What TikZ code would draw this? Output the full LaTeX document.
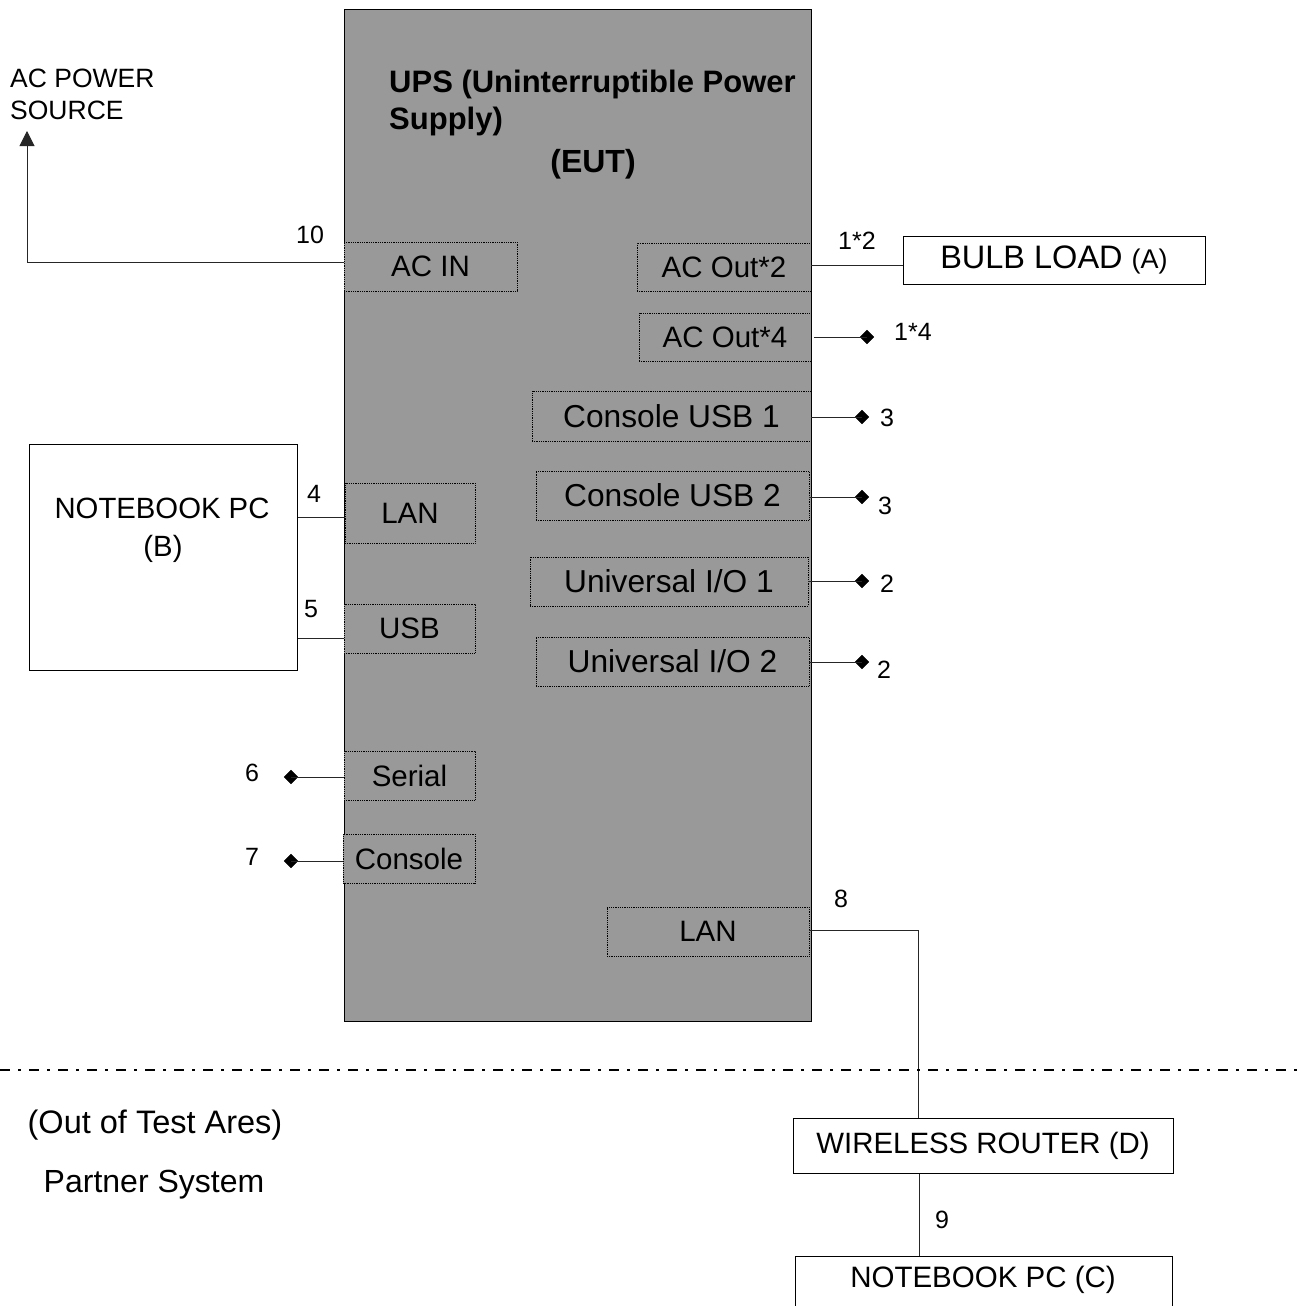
\documentclass[tikz,border=0pt]{standalone}
\usepackage{fontspec}
\setmainfont{Liberation Sans}
\usetikzlibrary{shapes.geometric,arrows.meta}
\newcommand\setfs[1]{\fontsize{#1}{#1}\selectfont}
\definecolor{upsgray}{HTML}{999999}
\tikzset{
  port/.style={draw=black, densely dotted, line width=0.8pt, fill=upsgray, inner sep=0pt, font=\setfs{29.5}},
  portb/.style={port, font=\setfs{31.7}},
  wbox/.style={draw=black, line width=1pt, fill=white, inner sep=0pt},
  conn/.style={draw=black!85, line width=1pt},
  dmd/.style={diamond, fill=black, draw=black, inner sep=0pt, minimum size=14pt},
  lbl/.style={font=\setfs{25}, inner sep=0pt},
}
\begin{document}
\begin{tikzpicture}[x=1pt,y=-1pt]
\useasboundingbox (0,0) rectangle (1298,1306);
\clip (0,0) rectangle (1298,1306);
% UPS box
\node[draw=black, line width=1pt, fill=upsgray, minimum width=467, minimum height=1012, inner sep=0pt, anchor=north west] (ups) at (344,9) {};
\node[font=\bfseries\setfs{31}, anchor=west, inner sep=0pt] (t1) at (389,84) {UPS (Uninterruptible Power};
\node[font=\bfseries\setfs{31}, anchor=west, inner sep=0pt] (t2) at (389,121) {Supply)};
\node[font=\bfseries\setfs{32}, inner sep=0pt] (t3) at (593,164) {(EUT)};
% ports
\node[port, minimum width=173, minimum height=49] (acin) at (430.5,266.5) {AC IN};
\node[port, minimum width=174, minimum height=48] (aco2) at (724,267) {AC Out*2};
\node[port, minimum width=172, minimum height=48] (aco4) at (725,337) {AC Out*4};
\node[portb, minimum width=279, minimum height=50] (cusb1) at (671.5,416) {Console USB 1};
\node[portb, minimum width=273, minimum height=49] (cusb2) at (672.5,495.5) {Console USB 2};
\node[portb, minimum width=278, minimum height=49] (uio1) at (669,581.5) {Universal I/O 1};
\node[portb, minimum width=273, minimum height=49] (uio2) at (672.5,661.5) {Universal I/O 2};
\node[port, minimum width=202, minimum height=49] (lanr) at (708,931.5) {LAN};
\node[port, minimum width=130, minimum height=60] (lanl) at (410,513) {LAN};
\node[port, minimum width=131, minimum height=49] (usb) at (409.5,628.5) {USB};
\node[port, minimum width=131, minimum height=49] (serial) at (409.5,775.5) {Serial};
\node[port, minimum width=132, minimum height=49] (console) at (409,858.5) {Console};
% external boxes
\node[wbox, minimum width=302, minimum height=48, font=\setfs{32.5}] (bulb) at (1054,260) {BULB LOAD {\setfs{27}(A)}};
\node[wbox, minimum width=268, minimum height=226] (nbb) at (163,557) {};
\node[font=\setfs{29.3}, inner sep=0pt] (nbbt1) at (162,508) {NOTEBOOK PC};
\node[font=\setfs{29.3}, inner sep=0pt] (nbbt2) at (163,549) {(B)};
\node[wbox, minimum width=380, minimum height=55, font=\setfs{29.4}] (router) at (983,1145.5) {WIRELESS ROUTER (D)};
\node[wbox, minimum width=377, minimum height=110, anchor=north] (nbc) at (983.5,1256) {};
\node[font=\setfs{29.5}, inner sep=0pt] (nbct) at (983,1280) {NOTEBOOK PC (C)};
% AC power source
\node[font=\setfs{26.5}, anchor=north west, inner sep=0pt, align=left] (acps) at (10,69) {AC POWER\\[5pt]SOURCE};
\coordinate (acsrc) at (27,131);
\draw[conn, -{Triangle[length=15pt,width=15pt]}] (acin.west |- 0,262) -- (27,262) -- (acsrc);
\node[lbl] (l10) at (310,235) {10};
% right connectors
\draw[conn] (aco2.east |- 0,265) -- (bulb.west |- 0,265);
\node[lbl] (l12) at (857,241) {1*2};
\node[dmd] (d14) at (867,337) {};
\draw[conn] (aco4.east) ++(3,0) -- (d14.center);
\node[lbl] (l14) at (913,332) {1*4};
\node[dmd] (d3a) at (862,417) {};
\draw[conn] (cusb1.east |- d3a) -- (d3a.center);
\node[lbl] (l3a) at (887,418) {3};
\node[dmd] (d3b) at (862,497) {};
\draw[conn] (cusb2.east |- d3b) -- (d3b.center);
\node[lbl] (l3b) at (885,506) {3};
\node[dmd] (d2a) at (862,581) {};
\draw[conn] (uio1.east |- d2a) -- (d2a.center);
\node[lbl] (l2a) at (887,584) {2};
\node[dmd] (d2b) at (862,662) {};
\draw[conn] (uio2.east |- d2b) -- (d2b.center);
\node[lbl] (l2b) at (884,670) {2};
% left connectors
\draw[conn] (nbb.east |- 0,517) -- (lanl.west |- 0,517);
\node[lbl] (l4) at (314,494) {4};
\draw[conn] (nbb.east |- 0,638) -- (usb.west |- 0,638);
\node[lbl] (l5) at (311,609) {5};
\node[dmd] (d6) at (291,777) {};
\draw[conn] (d6.center) -- (serial.west |- d6);
\node[lbl] (l6) at (252,773) {6};
\node[dmd] (d7) at (291,861) {};
\draw[conn] (d7.center) -- (console.west |- d7);
\node[lbl] (l7) at (252,857) {7};
% LAN to router
\coordinate (lancorner) at (918,930);
\draw[conn] (lanr.east |- lancorner) -- (lancorner) -- (router.north -| lancorner);
\node[lbl] (l8) at (841,899) {8};
\draw[conn] (router.south -| 919,0) -- (nbc.north -| 919,0);
\node[lbl] (l9) at (942,1220) {9};
% test area boundary
\coordinate (bl) at (0,1070);
\coordinate (br) at (1298,1070);
\draw[line width=2pt, dash pattern=on 10pt off 8pt on 3pt off 8pt] (bl) -- (br);
\node[font=\setfs{32.5}, inner sep=0pt] (outtest) at (155,1125) {(Out of Test Ares)};
\node[font=\setfs{32}, inner sep=0pt] (partner) at (154,1185) {Partner System};
\end{tikzpicture}
\end{document}
